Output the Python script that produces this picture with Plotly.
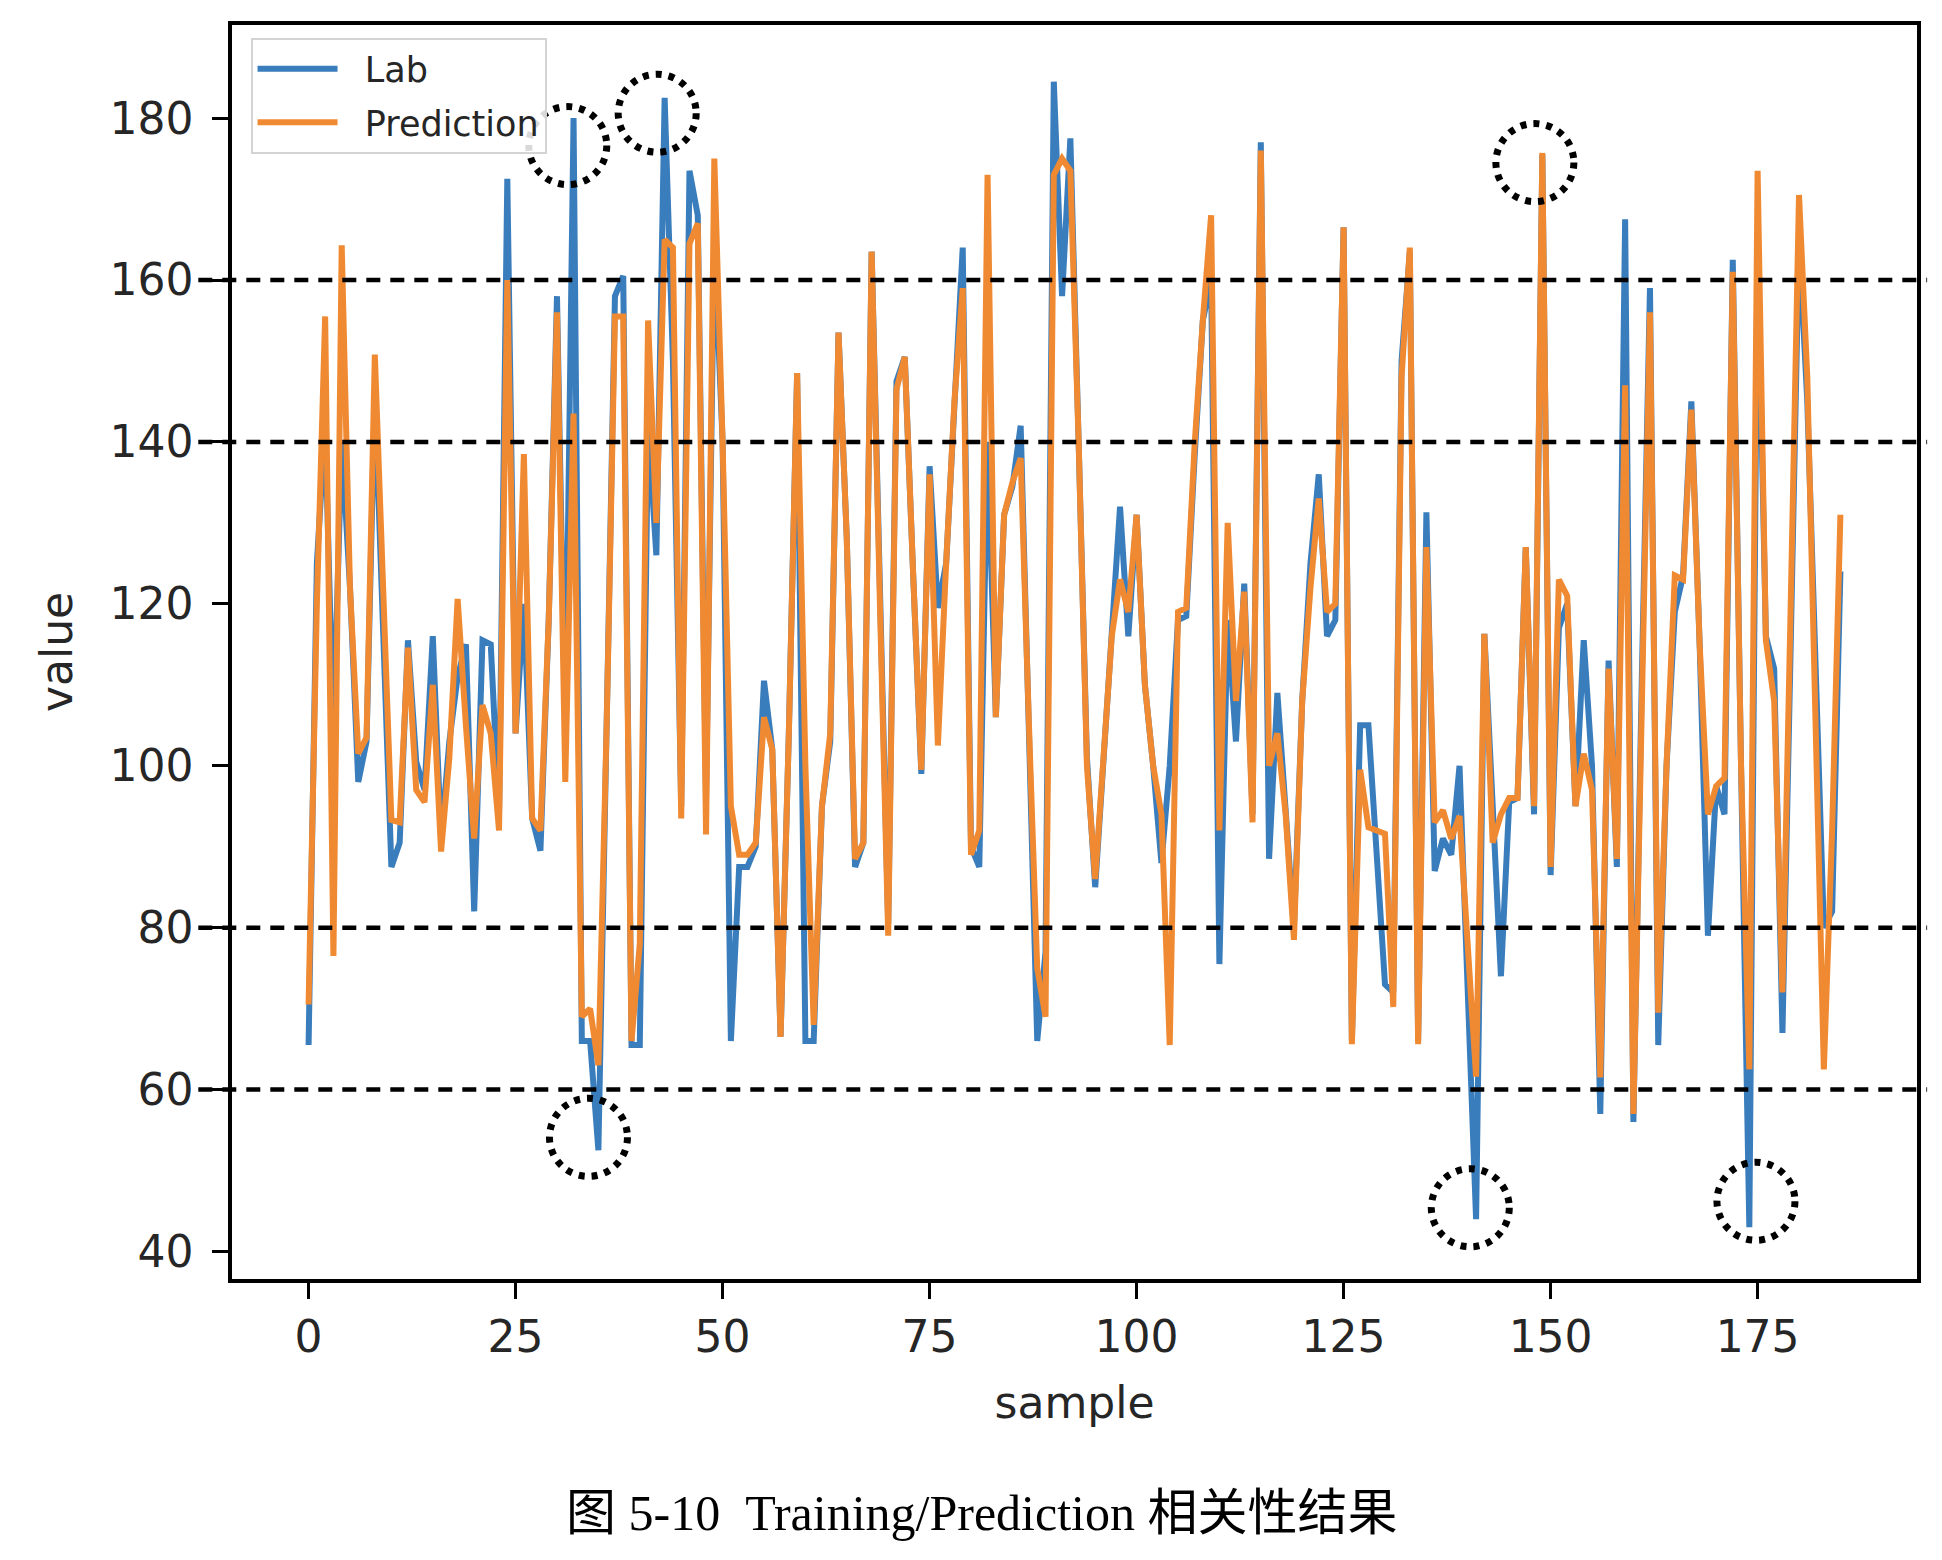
import plotly.graph_objects as go

# ---------------- data ----------------
lab = [
    65.5, 125, 142, 104, 140, 122, 98, 103, 146, 118,
    87.5, 90.5, 115.5, 100.5, 97, 116, 91, 103, 111, 115,
    82, 115.5, 115, 94, 172.5, 104, 120, 93.5, 89.5, 118,
    158, 104, 180, 66, 66, 52.5, 105, 158, 160.5, 65.5,
    65.5, 142, 126, 182.5, 150, 95, 173.5, 168, 96, 165,
    140, 66, 87.5, 87.5, 90, 110.5, 102, 66.5, 104, 148.5,
    66, 66, 95, 103, 153.5, 128, 87.5, 90.5, 163.5, 120,
    80.5, 147.5, 150.5, 124, 99, 137, 119.5, 125, 145, 164,
    90, 87.5, 140, 106, 131, 134.5, 142, 105, 66, 77,
    184.5, 158, 177.5, 140, 101, 85, 100, 116, 132, 116,
    131, 110, 100, 88, 100, 118, 118.5, 138, 155, 160,
    75.5, 118, 103, 122.5, 94, 177, 88.5, 109, 95, 80,
    108, 125, 136, 116, 118, 166.5, 66, 105, 105, 89,
    73, 72, 150, 163.5, 66, 131.3, 87, 91, 89, 100,
    72, 44, 116.3, 95, 74, 95.5, 96, 127, 94, 175.5,
    86.5, 117, 120, 95, 115.5, 100, 57, 113, 87.5, 167.5,
    56, 110, 159, 65.5, 100, 119, 123.5, 145, 115, 79,
    97.5, 94, 162.5, 100, 43, 165, 116, 112, 67, 115,
    165, 145, 110, 80, 82, 124,
]
prediction = [
    70.5, 120, 155.5, 76.5, 164.3, 122, 101.5, 103.5, 150.8, 120,
    93.3, 93, 114.6, 97, 95.5, 110, 89.4, 101, 120.6, 105,
    91, 107.5, 104, 92, 160, 104, 138.5, 93.5, 92, 118,
    156, 98, 143.5, 69, 70, 63, 105, 155.5, 155.5, 66,
    78, 155, 130, 165, 164, 93.5, 164.5, 167, 91.5, 175,
    140, 95, 89, 89, 90.5, 106, 102, 66.5, 104, 148.5,
    100, 68, 95, 104, 153.5, 128, 88.5, 90.5, 163.5, 120,
    79, 146.5, 150.5, 124, 99.5, 136, 102.5, 125, 145, 159,
    89, 92, 173, 106, 131, 135, 138, 105, 75, 69,
    173, 175, 173.5, 140, 100, 86, 100, 116, 123, 119,
    131, 110, 100, 94, 65.5, 119, 119.5, 139.5, 155, 168,
    92, 130, 108, 121.5, 93, 176, 100, 104, 94, 78.5,
    108, 122, 133, 119, 120, 166.5, 65.6, 99.5, 92.4, 92,
    91.6, 70.2, 148, 164, 65.6, 127, 93, 94.5, 91, 93.8,
    78, 61.6, 116.3, 90.5, 94, 96, 96, 127, 95, 175.7,
    87.5, 123, 121, 95, 101.5, 97, 61.5, 112, 88.5, 147,
    57, 110, 156, 69.5, 100, 123.5, 123, 144, 115, 94,
    97.5, 98.5, 161, 100, 62.5, 173.5, 115.5, 108, 72, 120,
    170.5, 148, 105, 62.5, 92, 131,
]
samples = list(range(len(lab)))

x_ticks = [0, 25, 50, 75, 100, 125, 150, 175]
y_ticks = [40, 60, 80, 100, 120, 140, 160, 180]
ref_levels = [160, 140, 80, 60]
circle_x = [31.3, 42.1, 33.8, 148.1, 140.3, 174.8]
circle_y = [176.6, 180.6, 54.1, 174.5, 45.4, 46.2]

caption = "图 5-10\u00a0\u00a0Training/Prediction 相关性结果"

# ---------------- figure ----------------
BLUE = "#3a7dbc"
ORANGE = "#f08a32"
TXT = "#262626"
GAP = "\u00a0\u00a0"

fig = go.Figure()
fig.add_trace(go.Scatter(x=samples, y=lab, mode="lines", name=GAP + "Lab",
                         legendgroup="lab",
                         line=dict(color=BLUE, width=6)))
fig.add_trace(go.Scatter(x=samples, y=prediction, mode="lines", name=GAP + "Prediction",
                         legendgroup="pred",
                         line=dict(color=ORANGE, width=6)))

shapes = []
for lv in ref_levels:
    shapes.append(dict(type="line", xref="paper", yref="y", x0=-0.02, x1=1.006,
                       y0=lv, y1=lv, layer="above",
                       line=dict(color="black", width=4.5, dash="14px,10px")))
for cx, cy in zip(circle_x, circle_y):
    shapes.append(dict(type="circle", xref="x", yref="y",
                       xsizemode="pixel", ysizemode="pixel",
                       xanchor=cx, yanchor=cy, x0=-39, x1=39, y0=-39, y1=39,
                       layer="above",
                       line=dict(color="black", width=7, dash="6px,7px")))

axis_common = dict(
    showline=True, linecolor="black", linewidth=3.5, mirror=True,
    ticks="outside", ticklen=16, tickwidth=3, tickcolor="black",
    showgrid=False, zeroline=False,
    tickfont=dict(family="DejaVu Sans", size=44, color=TXT),
)

fig.update_layout(
    width=1926, height=1544,
    margin=dict(l=224, r=17, t=17, b=273),
    paper_bgcolor="white", plot_bgcolor="white",
    showlegend=True,
    legend=dict(x=0.011, y=0.99, xanchor="left", yanchor="top",
                bgcolor="rgba(255,255,255,0.85)", bordercolor="#d4d4d4",
                borderwidth=2, font=dict(family="DejaVu Sans", size=35, color=TXT),
                itemwidth=80, tracegroupgap=5),
    xaxis=dict(range=[-9.25, 194.25], tickvals=x_ticks, ticklabelstandoff=0,
               title=dict(text="sample", standoff=28,
                          font=dict(family="DejaVu Sans", size=44, color=TXT)),
               **axis_common),
    yaxis=dict(range=[36.6, 191.5], tickvals=y_ticks, ticklabelstandoff=10,
               title=dict(text="value", standoff=24,
                          font=dict(family="DejaVu Sans", size=44, color=TXT)),
               **axis_common),
    shapes=shapes,
    annotations=[dict(text=caption, xref="paper", yref="paper",
                      x=0.4446, y=-0.1866, xanchor="center", yanchor="middle",
                      showarrow=False,
                      font=dict(family="Liberation Serif, Noto Sans CJK SC",
                                size=50, color="black"))],
)

fig.write_html("out.html")
